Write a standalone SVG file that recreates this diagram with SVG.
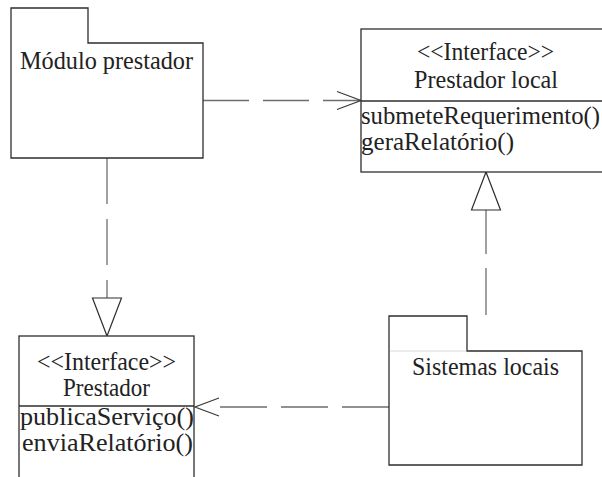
<svg xmlns="http://www.w3.org/2000/svg" width="602" height="477" viewBox="0 0 602 477">
  <style>
    .shape { fill: #ffffff; stroke: #2e2e2e; stroke-width: 1.3; }
    .inner { fill: none; stroke: #2e2e2e; stroke-width: 1.3; }
    .faint { fill: none; stroke: #d8d8d8; stroke-width: 1; }
    text { font-family: 'Liberation Serif', 'Times New Roman', serif; font-size: 25px; fill: #222222; }
    .mid { text-anchor: middle; }
    .dep { fill: none; stroke: #6e6e6e; stroke-width: 1.3; }
  </style>
  <defs>
    <!-- open arrowhead for dependencies -->
    <marker id="open" markerUnits="userSpaceOnUse" markerWidth="30" markerHeight="24" viewBox="-26 -12 30 24" refX="0" refY="0" orient="auto">
      <path d="M-24,-9 L0,0 L-24,9" fill="none" stroke="#3a3a3a" stroke-width="1.2"/>
    </marker>
    <!-- hollow triangle for realization -->
    <marker id="hollow" markerUnits="userSpaceOnUse" markerWidth="44" markerHeight="34" viewBox="-42 -17 44 34" refX="0" refY="0" orient="auto">
      <path d="M-38,-14.5 L0,0 L-38,14.5 Z" fill="#ffffff" stroke="#2e2e2e" stroke-width="1.2"/>
    </marker>
  </defs>

  <g id="connectors">
    <!-- Módulo prestador uses Prestador local -->
    <path class="dep" d="M203,100.5 H361" stroke-dasharray="46 14" marker-end="url(#open)"/>
    <!-- Módulo prestador realizes Prestador -->
    <path class="dep" d="M107,158 V336" stroke-dasharray="46 15" marker-end="url(#hollow)"/>
    <!-- Sistemas locais realizes Prestador local -->
    <path class="dep" d="M486,315 V172" stroke-dasharray="47 14" marker-end="url(#hollow)"/>
    <!-- Sistemas locais uses Prestador -->
    <path class="dep" d="M389,407 H195" stroke-dasharray="47 14 47 14 47 100" marker-end="url(#open)"/>
  </g>

  <g id="modulo-prestador">
    <path class="shape" d="M11,158 V8 H88 V43 H203 V158 Z"/>
    <text class="mid" x="106.5" y="69" textLength="173" lengthAdjust="spacingAndGlyphs">Módulo prestador</text>
  </g>

  <g id="prestador-local">
    <rect class="shape" x="361" y="29" width="260" height="143"/>
    <line class="inner" x1="361" y1="101" x2="602" y2="101"/>
    <text class="mid" x="485.5" y="60" textLength="137" lengthAdjust="spacingAndGlyphs">&lt;&lt;Interface&gt;&gt;</text>
    <text class="mid" x="486" y="88" textLength="144" lengthAdjust="spacingAndGlyphs">Prestador local</text>
    <text x="361" y="124" textLength="239" lengthAdjust="spacingAndGlyphs">submeteRequerimento()</text>
    <text x="361" y="150" textLength="153" lengthAdjust="spacingAndGlyphs">geraRelatório()</text>
  </g>

  <g id="prestador">
    <rect class="shape" x="19" y="336" width="175" height="160"/>
    <line class="inner" x1="19" y1="406" x2="194" y2="406"/>
    <text class="mid" x="106.5" y="370" textLength="139" lengthAdjust="spacingAndGlyphs">&lt;&lt;Interface&gt;&gt;</text>
    <text class="mid" x="106.5" y="396" textLength="87" lengthAdjust="spacingAndGlyphs">Prestador</text>
    <text x="20" y="425" textLength="174" lengthAdjust="spacingAndGlyphs">publicaServiço()</text>
    <text x="22" y="451" textLength="171" lengthAdjust="spacingAndGlyphs">enviaRelatório()</text>
  </g>

  <g id="sistemas-locais">
    <path class="shape" d="M389,465 V316 H467 V351 H582 V465 Z"/>
    <line class="faint" x1="390" y1="351" x2="466" y2="351"/>
    <text class="mid" x="485.5" y="375" textLength="147" lengthAdjust="spacingAndGlyphs">Sistemas locais</text>
  </g>
</svg>
